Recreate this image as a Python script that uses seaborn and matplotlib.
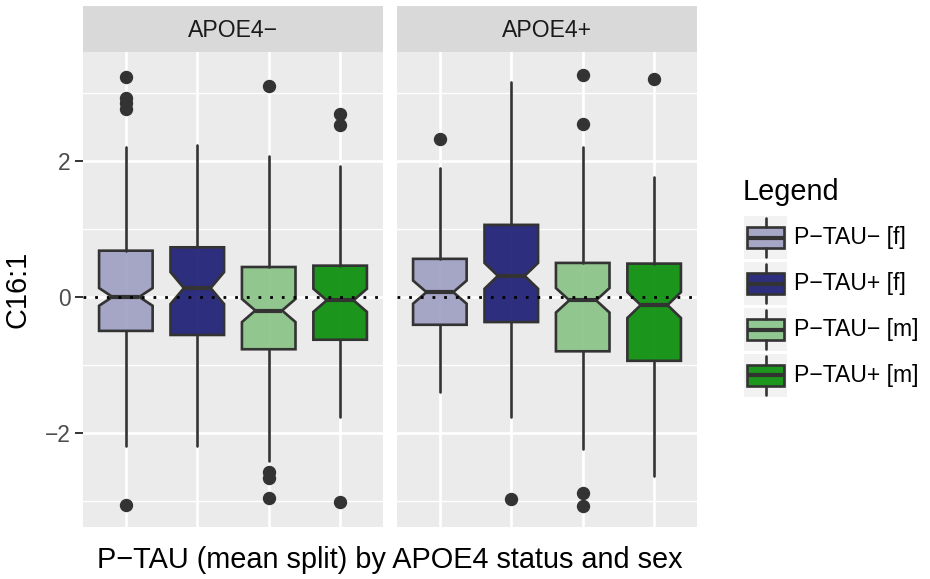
import matplotlib
matplotlib.use("Agg")
import matplotlib.pyplot as plt
import seaborn as sns

# ---------------- data ----------------
groups = ["P\u2212TAU\u2212 [f]", "P\u2212TAU+ [f]", "P\u2212TAU\u2212 [m]", "P\u2212TAU+ [m]"]
facets = ["APOE4\u2212", "APOE4+"]
colors = ["#9e9ec2", "#191972", "#87c385", "#048c04"]

# APOE4- facet
neg_med = [0.00, 0.13, -0.20, -0.05]
neg_q1 = [-0.50, -0.56, -0.77, -0.63]
neg_q3 = [0.68, 0.73, 0.44, 0.46]
neg_lo = [-2.19, -2.19, -2.41, -1.77]
neg_hi = [2.20, 2.23, 2.07, 1.92]
neg_notch = [0.13, 0.235, 0.17, 0.17]
neg_fliers = [[3.23, 2.93, 2.85, 2.76, -3.06], [], [3.10, -2.57, -2.67, -2.96], [2.69, 2.53, -3.01]]

# APOE4+ facet
pos_med = [0.07, 0.31, -0.05, -0.12]
pos_q1 = [-0.41, -0.37, -0.80, -0.94]
pos_q3 = [0.56, 1.06, 0.50, 0.49]
pos_lo = [-1.40, -1.77, -2.24, -2.63]
pos_hi = [1.90, 3.16, 2.20, 1.77]
pos_notch = [0.17, 0.19, 0.18, 0.19]
pos_fliers = [[2.33], [-2.98], [3.27, 2.55, -2.88, -3.07], [3.21]]

y_ticks = [-2, 0, 2]
y_minor = [-3, -1, 1, 3]
x_label = "P\u2212TAU (mean split) by APOE4 status and sex"
y_label = "C16:1"
legend_title = "Legend"

# ---------------- style ----------------
sns.set_theme(style="darkgrid", rc={"axes.facecolor": "#EBEBEB", "grid.color": "white"})
plt.rcParams["font.family"] = ["Liberation Sans", "DejaVu Sans"]
plt.rcParams["axes.unicode_minus"] = True

W, H, DPI = 930, 579, 100
fig = plt.figure(figsize=(W / DPI, H / DPI), dpi=DPI)
fig.patch.set_facecolor("white")


def fx(px):
    return px / W


def fy(py):
    return 1 - py / H


edge = "#333333"
panel_left = [83, 397]
panel_w = 300
panel_top, panel_bot = 52, 527
strip_top = 6

facet_data = [
    (neg_med, neg_q1, neg_q3, neg_lo, neg_hi, neg_notch, neg_fliers),
    (pos_med, pos_q1, pos_q3, pos_lo, pos_hi, pos_notch, pos_fliers),
]

axes = []
for i, (fname, fd) in enumerate(zip(facets, facet_data)):
    med, q1, q3, lo, hi, notch, fl = fd
    ax = fig.add_axes([fx(panel_left[i]), fy(panel_bot), fx(panel_w), (panel_bot - panel_top) / H])
    axes.append(ax)
    stats = []
    for j in range(len(groups)):
        stats.append(dict(med=med[j], q1=q1[j], q3=q3[j], whislo=lo[j], whishi=hi[j],
                          cilo=med[j] - notch[j], cihi=med[j] + notch[j],
                          fliers=fl[j], label=groups[j]))
    bp = ax.bxp(stats, positions=[1, 2, 3, 4], widths=0.75, shownotches=True,
                showcaps=False, patch_artist=True, manage_ticks=False,
                boxprops=dict(edgecolor=edge, linewidth=1.9),
                whiskerprops=dict(color=edge, linewidth=1.9),
                medianprops=dict(color=edge, linewidth=3.0),
                flierprops=dict(marker="o", markerfacecolor=edge, markeredgecolor=edge,
                                markersize=8.6, linestyle="none"))
    for patch, c in zip(bp["boxes"], colors):
        patch.set_facecolor(matplotlib.colors.to_rgba(c, 0.9))
    ax.axhline(0, color="black", linestyle=(0, (1, 3.2)), linewidth=2.0, zorder=6)
    ax.set_xlim(0.4, 4.6)
    ax.set_ylim(-3.385, 3.603)
    ax.set_xticks([1, 2, 3, 4])
    ax.set_xticklabels([])
    ax.set_yticks(y_ticks)
    ax.set_yticks(y_minor, minor=True)
    ax.grid(which="major", color="white", linewidth=1.9)
    ax.grid(which="minor", axis="y", color="white", linewidth=0.95)
    ax.grid(which="minor", axis="x", visible=False)
    ax.set_axisbelow(True)
    for s in ax.spines.values():
        s.set_visible(False)
    ax.tick_params(axis="x", length=0, labelbottom=False)
    ax.tick_params(axis="y", which="minor", length=0)
    if i == 0:
        ax.set_yticklabels([f"{t:d}".replace("-", "\u2212") for t in y_ticks])
        ax.tick_params(axis="y", which="major", length=5.5, width=1.4, color=edge,
                       labelsize=16.4, labelcolor="#4D4D4D", pad=3.5, left=True)
    else:
        ax.tick_params(axis="y", which="both", length=0, labelleft=False)

    # strip
    sax = fig.add_axes([fx(panel_left[i]), fy(panel_top), fx(panel_w), (panel_top - strip_top) / H])
    sax.set_facecolor("#D9D9D9")
    sax.set_xticks([])
    sax.set_yticks([])
    sax.grid(False)
    for s in sax.spines.values():
        s.set_visible(False)
    fig.text(fx(panel_left[i] + panel_w / 2), fy(37.3), fname, ha="center", va="baseline",
             fontsize=16.6, color="#1A1A1A")

# axis titles
fig.text(fx(390), fy(568), x_label, ha="center", va="baseline", fontsize=20.8, color="black")
fig.text(fx(17.5), fy(289.5), y_label, ha="center", va="center", rotation=90,
         fontsize=20.8, color="black")

# legend
fig.text(fx(743), fy(199.5), legend_title, ha="left", va="baseline", fontsize=20.8, color="black")
key_x0, key_w, key_h = 744, 43, 43.6
for k, (g, c) in enumerate(zip(groups, colors)):
    top = 215.7 + 46 * k
    kax = fig.add_axes([fx(key_x0), fy(top + key_h), fx(key_w), key_h / H])
    kax.set_facecolor("#F2F2F2")
    kax.set_xlim(0, 1)
    kax.set_ylim(0, 1)
    kax.set_xticks([])
    kax.set_yticks([])
    kax.grid(False)
    for s in kax.spines.values():
        s.set_visible(False)
    kax.bxp([dict(med=0.5, q1=0.255, q3=0.75, whislo=0.05, whishi=0.95, fliers=[], label=g)],
            positions=[0.5], widths=0.87, showcaps=False, patch_artist=True, manage_ticks=False,
            boxprops=dict(edgecolor=edge, linewidth=1.9, facecolor=matplotlib.colors.to_rgba(c, 0.9)),
            whiskerprops=dict(color=edge, linewidth=1.9),
            medianprops=dict(color=edge, linewidth=3.0))
    fig.text(fx(794), fy(top + key_h / 2), g, ha="left", va="center", fontsize=16.6, color="black")

fig.savefig("out.png", dpi=DPI, facecolor="white")
